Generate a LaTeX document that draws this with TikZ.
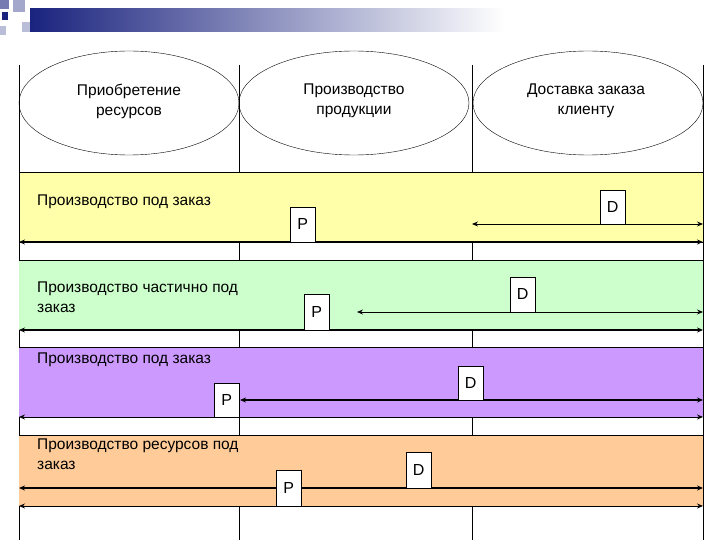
\documentclass[tikz,border=0pt]{standalone}
\usepackage{fontspec}
\setmainfont{Liberation Sans}
\usetikzlibrary{shapes.geometric,arrows.meta}
\definecolor{yel}{HTML}{FFFFAA}
\definecolor{grn}{HTML}{CCFFCC}
\definecolor{pur}{HTML}{CC99FF}
\definecolor{org}{HTML}{FFCC99}
\definecolor{navy}{HTML}{1A237E}
\begin{document}
\begin{tikzpicture}[x=1pt,y=-1pt,
  lab/.style={font=\fontsize{15.5}{20}\selectfont,align=left,anchor=north west,inner sep=0pt},
  ell/.style={ellipse,draw,thin,minimum width=230pt,minimum height=104pt,align=center,inner sep=0pt},
  box/.style={draw,thin,fill=white,minimum width=25pt,font=\fontsize{16}{18}\selectfont,inner sep=0pt},
  arr/.style={{Stealth[length=6pt,width=5pt]}-{Stealth[length=6pt,width=5pt]},line width=1.3pt},
  arrt/.style={{Stealth[length=6pt,width=5pt]}-{Stealth[length=6pt,width=5pt]},line width=0.8pt}]
\useasboundingbox (0,0) rectangle (720,540);
% header decoration
\shade[left color=navy,right color=white] (30,9) rectangle (505,32);
\fill[navy!60] (0,0) rectangle (9,9);
\fill[navy!40] (13,0) rectangle (25,12);
\fill[navy] (2,12) rectangle (8,20);
\fill[navy!30] (22,22) rectangle (30,32);
\fill[navy!30] (0,26) rectangle (6,35);
% vertical lines
\foreach \x in {19,239,472,703} \draw[thin] (\x,65) -- (\x,540);
% ellipses
\node[ell,minimum width=220pt] (e1) at (129,103) {};
\node[ell] (e2) at (354,103) {};
\node[ell] (e3) at (588,103) {};
\node[lab,anchor=north,align=center] (l1) at (129,84) {Приобретение\\ресурсов};
\node[lab,anchor=north,align=center] (l2) at (354,84) {Производство\\продукции};
\node[lab,anchor=north,align=center] (l3) at (586,84) {Доставка заказа\\клиенту};
% bands
\filldraw[fill=yel,draw=black,thin] (19,172) rectangle (703,242);
\filldraw[fill=grn,draw=none] (19,260) rectangle (703,330); \draw[thin] (19,260)--(703,260);
\filldraw[fill=pur,draw=none] (19,347) rectangle (703,417); \draw[thin] (19,347)--(703,347);
\filldraw[fill=org,draw=none] (19,435) rectangle (703,506); \draw[thin] (19,435)--(703,435);
% band 1
\node[lab] (t1) at (37,195) {Производство под заказ};
\coordinate (a1l) at (19,242); \coordinate (a1r) at (703,242);
\coordinate (b1l) at (472,224); \coordinate (b1r) at (703,224);
\draw[arr] (a1l) -- (a1r);
\draw[arrt] (b1l) -- (b1r);
\node[box,minimum height=35pt,anchor=south west] (p1) at (290,242) {P};
\node[box,minimum height=34pt,anchor=south west] (d1) at (600,224) {D};
% band 2
\node[lab] (t2) at (37,282) {Производство частично под\\заказ};
\coordinate (a2l) at (19,330); \coordinate (a2r) at (703,330);
\coordinate (b2l) at (357,312); \coordinate (b2r) at (703,312);
\draw[arr] (a2l) -- (a2r);
\draw[arrt] (b2l) -- (b2r);
\node[box,minimum height=36pt,anchor=south west] (p2) at (304,330) {P};
\node[box,minimum height=35pt,anchor=south west] (d2) at (510,312) {D};
% band 3
\node[lab] (t3) at (37,353) {Производство под заказ};
\coordinate (a3l) at (19,417); \coordinate (a3r) at (703,417);
\coordinate (b3l) at (240,400); \coordinate (b3r) at (703,400);
\draw[arrt] (a3l) -- (a3r);
\draw[arr] (b3l) -- (b3r);
\node[box,minimum height=34pt,anchor=south west] (p3) at (214,417) {P};
\node[box,minimum height=34pt,anchor=south west] (d3) at (458,400) {D};
% band 4
\node[lab] (t4) at (37,439) {Производство ресурсов под\\заказ};
\coordinate (a4l) at (19,488); \coordinate (a4r) at (703,488);
\coordinate (b4l) at (19,506); \coordinate (b4r) at (703,506);
\draw[arr] (a4l) -- (a4r);
\draw[arrt] (b4l) -- (b4r);
\node[box,minimum height=36pt,anchor=south west] (p4) at (276,506) {P};
\node[box,minimum height=36pt,anchor=south west] (d4) at (406,488) {D};
\end{tikzpicture}
\end{document}
